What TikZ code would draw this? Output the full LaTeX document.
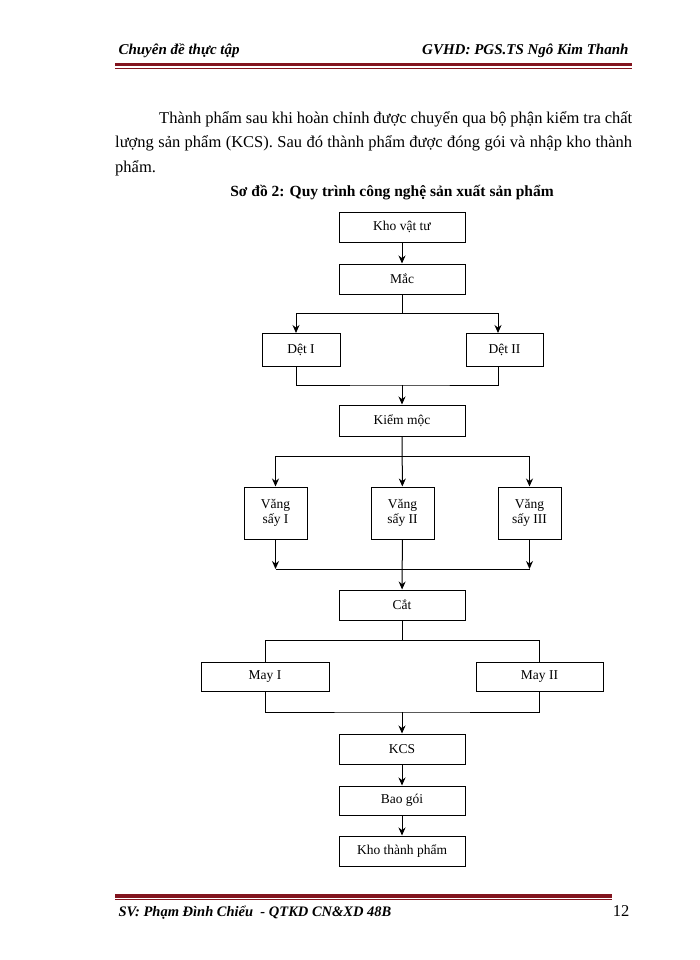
\documentclass[tikz,border=0pt]{standalone}
\usepackage{fontspec}
\setmainfont{Liberation Serif}
\usetikzlibrary{arrows.meta}
\definecolor{rul}{RGB}{130,20,30}
\begin{document}
\begin{tikzpicture}[x=1pt,y=-1pt,
  bx/.style={draw,line width=1pt,minimum width=126pt,minimum height=30pt,inner sep=0pt,font=\fontsize{13.5}{15.5}\selectfont,align=center},
  ln/.style={line width=1pt},
  ar/.style={line width=1pt,-{Stealth[length=8pt,width=7pt]}}]
\useasboundingbox[fill=white] (0,0) rectangle (700,960);
% header
\node[anchor=base west,font=\itshape\bfseries\fontsize{15}{17}\selectfont] (h1) at (115,55) {Chuyên đề thực tập};
\node[anchor=base east,font=\itshape\bfseries\fontsize{15}{17}\selectfont] (h2) at (632,55) {GVHD: PGS.TS Ngô Kim Thanh};
\fill[rul] (115,63) rectangle (632,66.5);
\draw[rul,line width=0.8pt] (115,68) -- (632,68);
% body
\node[anchor=north west,text width=517pt,align=justify,font=\fontsize{16.5}{24.5}\selectfont,inner sep=0pt] (body) at (115,111)
{\hspace*{44pt}Thành phẩm sau khi hoàn chỉnh được chuyển qua bộ phận kiểm tra chất lượng sản phẩm (KCS). Sau đó thành phẩm được đóng gói và nhập kho thành phẩm.};
\node[font=\bfseries\fontsize{15.5}{17}\selectfont] (title) at (392,193) {Sơ đồ 2: Quy trình công nghệ sản xuất sản phẩm};
% boxes
\node[bx] (kvt) at (402,227) {Kho vật tư};
\node[bx] (mac) at (402,279) {Mắc};
\node[bx,minimum width=78pt,minimum height=33pt] (d1) at (301,350) {Dệt I};
\node[bx,minimum width=77pt,minimum height=33pt] (d2) at (504.5,350) {Dệt II};
\node[bx,minimum height=31pt] (km) at (402,420.5) {Kiểm mộc};
\node[bx,minimum width=63pt,minimum height=52pt] (v1) at (275.5,513) {Văng\\sấy I};
\node[bx,minimum width=63pt,minimum height=52pt] (v2) at (402.5,513) {Văng\\sấy II};
\node[bx,minimum width=63pt,minimum height=52pt] (v3) at (529.5,513) {Văng\\sấy III};
\node[bx] (cat) at (402,605) {Cắt};
\node[bx,minimum width=128pt,minimum height=29pt] (m1) at (265,676.5) {May I};
\node[bx,minimum width=127pt,minimum height=29pt] (m2) at (539.5,676.5) {May II};
\node[bx] (kcs) at (402,749) {KCS};
\node[bx,minimum height=29pt] (bg) at (402,800.5) {Bao gói};
\node[bx] (ktp) at (402,851) {Kho thành phẩm};
% connectors
\draw[ar] (kvt) -- (mac);
\coordinate (b1) at (402,313);
\draw[ln] (mac) -- (b1);
\draw[ar] (b1) -| ([xshift=-5pt]d1.north);
\draw[ar] (b1) -| ([xshift=-6.5pt]d2.north);
\coordinate (j1) at (402,385);
\draw[ln] ([xshift=-5pt]d1.south) |- (j1) -| ([xshift=-6.5pt]d2.south);
\draw[ar] (j1) -- (km);
\coordinate (b2) at (402,456);
\draw[ar] (km) -- (v2);
\draw[ar] (b2) -| (v1.north);
\draw[ar] (b2) -| (v3.north);
\coordinate (j2l) at (275.5,569);
\coordinate (j2r) at (529.5,569);
\draw[ln] (j2l) -- (j2r);
\draw[ar] (v1.south) -- (j2l);
\draw[ar] (v3.south) -- (j2r);
\draw[ar] (v2) -- (cat);
\coordinate (b3) at (402,640);
\draw[ln] (cat) -- (b3);
\draw[ln] (b3) -| (m1.north);
\draw[ln] (b3) -| (m2.north);
\coordinate (j3) at (402,712);
\draw[ln] (m1.south) |- (j3) -| (m2.south);
\draw[ar] (j3) -- (kcs);
\draw[ar] (kcs) -- (bg);
\draw[ar] (bg) -- (ktp);
% footer
\fill[rul] (115,894) rectangle (612,897.5);
\draw[rul,line width=0.8pt] (115,899) -- (612,899);
\node[anchor=base west,font=\itshape\bfseries\fontsize{14.5}{16}\selectfont] (f1) at (115,916) {SV: Phạm Đình Chiểu \ - QTKD CN\&XD 48B};
\node[anchor=base east,font=\fontsize{16.5}{18}\selectfont] (f2) at (633,916) {12};
\end{tikzpicture}
\end{document}
